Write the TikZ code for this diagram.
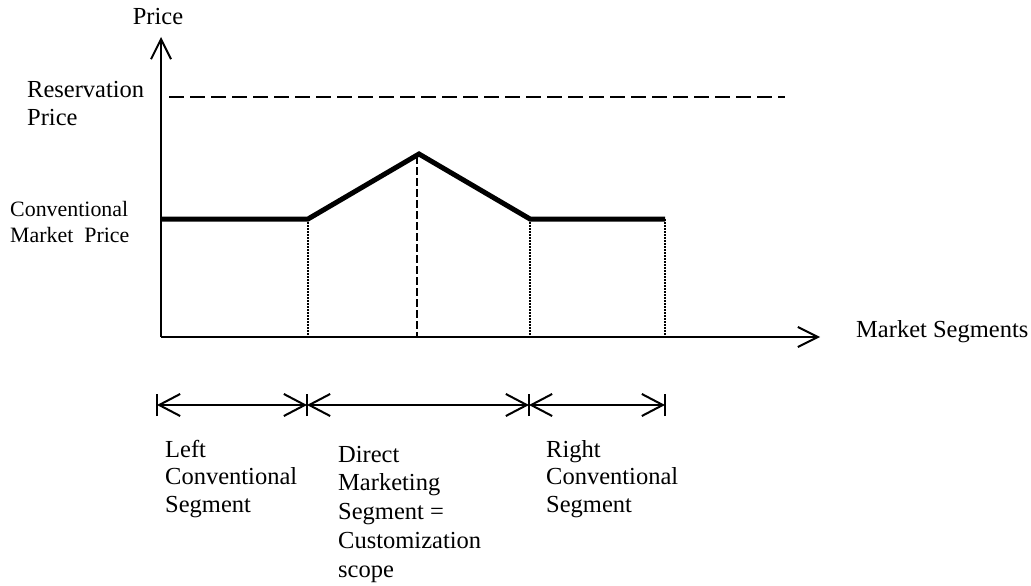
\documentclass[tikz,border=0pt]{standalone}
\usepackage{fontspec}
\setmainfont{Liberation Serif}
\usetikzlibrary{arrows.meta}
\tikzset{
  axisline/.style={line width=2pt, -{Straight Barb[length=20pt,width=20pt]}},
  resline/.style={line width=2pt, dash pattern=on 15pt off 6pt},
  priceline/.style={line width=5pt, line join=miter},
  peakline/.style={line width=1.5pt, dash pattern=on 7.5pt off 3.5pt},
  dotline/.style={line width=1.5pt, dash pattern=on 1.5pt off 1.5pt},
  segarrow/.style={line width=2pt, {Straight Barb[length=21pt,width=22pt]}-{Straight Barb[length=21pt,width=22pt]}},
  segbar/.style={line width=2pt},
  lbl/.style={inner sep=0pt, font=\fontsize{24.5}{28}\selectfont},
  blk/.style={inner sep=0pt, anchor=north west, align=left}
}
\begin{document}
\begin{tikzpicture}[x=1pt,y=-1pt]
\useasboundingbox (0,0) rectangle (1031,586);
% axes
\coordinate (O) at (161,337);
\coordinate (ytop) at (161,37);
\coordinate (xend) at (820,337);
\draw[axisline] (O) -- (ytop);
\draw[axisline] (O) -- (xend);
% reservation price
\coordinate (r1) at (169,97);
\coordinate (r2) at (785,97);
\draw[resline] (r1) -- (r2);
% price curve
\coordinate (p0) at (161,219);
\coordinate (p1) at (308,219);
\coordinate (pk) at (419,154);
\coordinate (p2) at (530,219);
\coordinate (p3) at (665,219);
\coordinate (tk) at (417,156);
\coordinate (b1) at (308,337);
\coordinate (bk) at (417,337);
\coordinate (b2) at (530,337);
\coordinate (b3) at (665,337);
\draw[dotline] (p1) -- (b1);
\draw[dotline] (p2) -- (b2);
\draw[dotline] (p3) -- (b3);
\draw[peakline] (tk) -- (bk);
\draw[priceline] (p0) -- (p1) -- (pk) -- (p2) -- (p3);
% segment arrows
\coordinate (s0) at (157,405);
\coordinate (s1) at (307,405);
\coordinate (s2) at (529,405);
\coordinate (s3) at (665,405);
\draw[segarrow] (s0) -- (s1);
\draw[segarrow] (s1) -- (s2);
\draw[segarrow] (s2) -- (s3);
\foreach \s in {s0,s1,s2,s3}{
  \draw[segbar] ([yshift=-11pt]\s) -- ([yshift=11pt]\s);
}
% labels
\node[lbl, anchor=base] (tprice) at (158,25) {Price};
\node[lbl, anchor=base west] (tmarket) at (856,337) {Market Segments};
\node[blk, font=\fontsize{24.5}{28}\selectfont] (tres) at (27,77.4) {\strut Reservation\\Price};
\node[blk, font=\fontsize{21.9}{26}\selectfont] (tconv) at (10,197.8) {\strut Conventional\\Market~ Price};
\node[blk, font=\fontsize{24.5}{27.5}\selectfont] (tleft) at (165,437.75) {\strut Left\\Conventional\\Segment};
\node[blk, font=\fontsize{24.5}{28.75}\selectfont] (tdirect) at (338,441.9) {\strut Direct\\Marketing\\Segment =\\Customization\\scope};
\node[blk, font=\fontsize{24.5}{27.5}\selectfont] (tright) at (546,437.75) {\strut Right\\Conventional\\Segment};
\end{tikzpicture}
\end{document}
